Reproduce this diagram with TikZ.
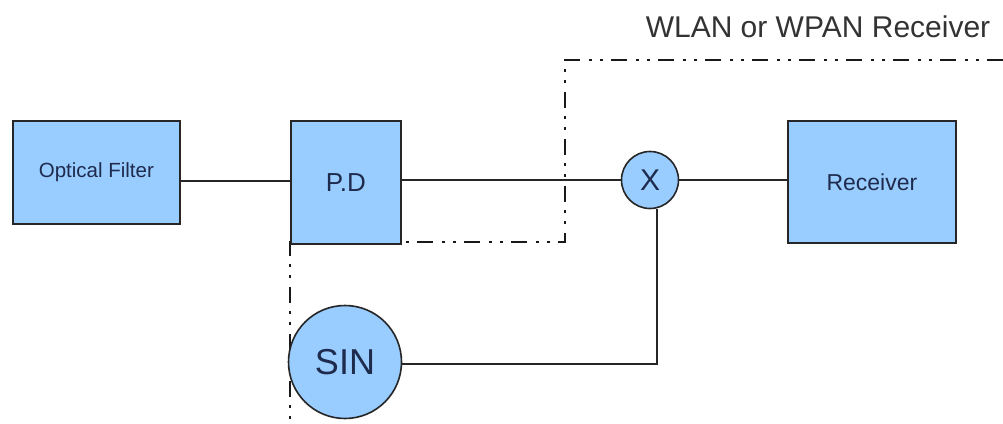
\documentclass[tikz,border=0pt]{standalone}
\usepackage{fontspec}
\setmainfont{Liberation Sans}
\begin{document}
\begin{tikzpicture}[x=1pt,y=-1pt,
  blk/.style={draw=black!85, line width=1.8pt, fill=boxblue, text=txtblue, inner sep=0pt, anchor=north west},
  circ/.style={circle, draw=black!85, line width=1.6pt, fill=boxblue, text=txtblue, inner sep=0pt},
  wire/.style={line width=1.8pt, draw=black!85},
  bound/.style={line width=2.2pt, draw=black!90, dash pattern=on 16pt off 8pt on 3pt off 8pt on 3pt off 9pt}]
\definecolor{boxblue}{HTML}{99CCFF}
\definecolor{txtblue}{HTML}{1E2B4D}
\useasboundingbox[fill=white] (0,0) rectangle (1003,423);
% boundary
\coordinate (b1) at (1003,60);
\coordinate (b2) at (565,60);
\coordinate (b3) at (565,242);
\coordinate (b4) at (290,242);
\coordinate (b5) at (290,423);
\draw[bound] (b1) -- (b2) -- (b3) -- (b4) -- (b5);
\node[text=black!80, font=\fontsize{30}{30}\selectfont, anchor=center] (lbl) at (818,27) {WLAN or WPAN Receiver};
% blocks
\node[blk, minimum width=167pt, minimum height=103pt, font=\fontsize{20.5}{20.5}\selectfont] (of) at (12,120) {Optical Filter};
\node[blk, minimum width=110pt, minimum height=123pt, font=\fontsize{26}{26}\selectfont] (pd) at (290,120) {P.D};
\node[blk, minimum width=168pt, minimum height=122pt, font=\fontsize{23}{23}\selectfont] (rx) at (787,120) {Receiver};
\node[circ, minimum size=57pt, font=\fontsize{30}{30}\selectfont] (mx) at (650,180) {X};
\node[circ, minimum size=113pt, font=\fontsize{36}{36}\selectfont] (sin) at (345,362) {SIN};
% wires
\coordinate (c0) at (179,181);
\draw[wire] (of.east |- c0) -- (c0 -| pd.west);
\draw[wire] (pd.east |- mx.west) -- (mx.west);
\draw[wire] (mx.east) -- (rx.west |- mx.east);
\coordinate (c1) at (657,364);
\draw[wire] (sin.east |- c1) -- (c1) -- (c1 |- mx.south);
\end{tikzpicture}
\end{document}
